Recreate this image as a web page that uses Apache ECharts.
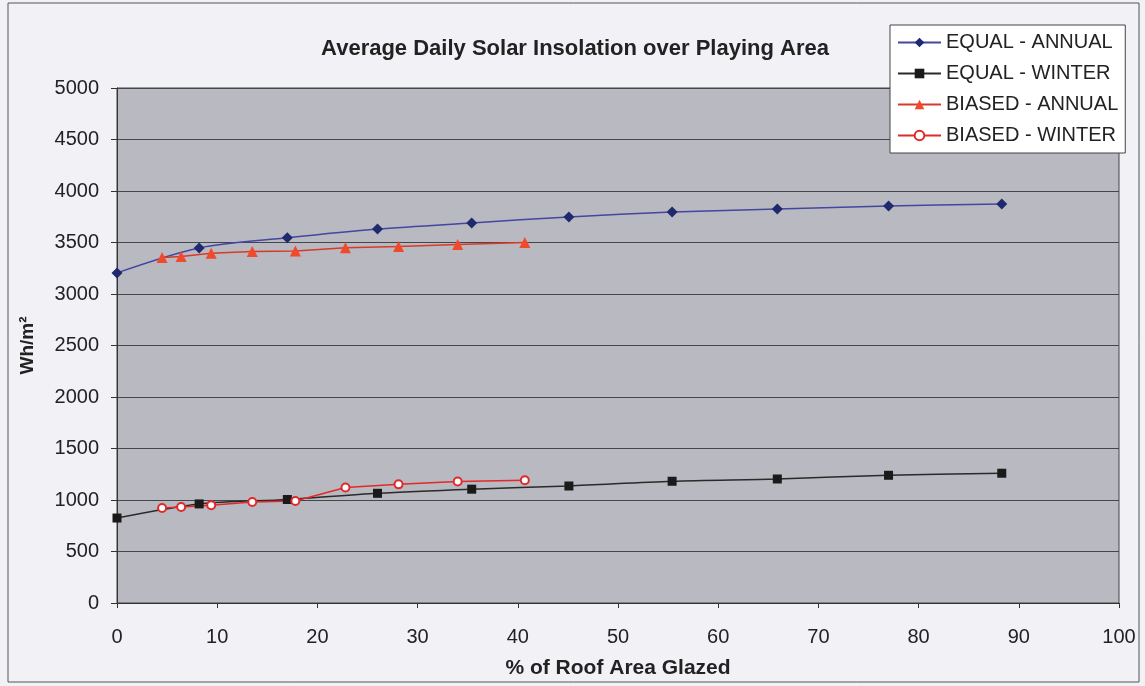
<!DOCTYPE html>
<html>
<head>
<meta charset="utf-8">
<script src="https://cdn.jsdelivr.net/npm/echarts@6/dist/echarts.min.js"></script>
<style>
html,body{margin:0;padding:0;background:#f2f2f6;}
#c{width:1145px;height:686px;}
</style>
</head>
<body>
<div id="c"></div>
<script>
const titleText = 'Average Daily Solar Insolation over Playing Area';
const xName = '% of Roof Area Glazed';
const yName = 'Wh/m²';
const seriesNames = ['EQUAL - ANNUAL', 'EQUAL - WINTER', 'BIASED - ANNUAL', 'BIASED - WINTER'];

const equalX = [0, 8.2, 17.0, 26.0, 35.4, 45.1, 55.4, 65.9, 77.0, 88.3];
const equalAnnual = [3205, 3447, 3545, 3630, 3690, 3748, 3796, 3825, 3854, 3874];
const equalWinter = [825, 962, 1005, 1065, 1105, 1136, 1182, 1204, 1240, 1260];

const biasedX = [4.5, 6.4, 9.4, 13.5, 17.8, 22.8, 28.1, 34.0, 40.7];
const biasedAnnual = [3355, 3365, 3395, 3412, 3418, 3450, 3462, 3480, 3500];
const biasedWinter = [922, 932, 950, 980, 990, 1122, 1152, 1180, 1192];

const yMin = 0, yMax = 5000, yStep = 500;
const xMin = 0, xMax = 100, xStep = 10;

function pairs(xs, ys){ return xs.map((x,i)=>[x, ys[i]]); }

const chart = echarts.init(document.getElementById('c'), null, {renderer:'canvas'});
const font = 'Liberation Sans, Arial, sans-serif';
chart.setOption({
  backgroundColor: '#f2f2f6',
  animation: false,
  textStyle: {fontFamily: font},
  graphic: [{
    type: 'rect', shape: {x: 8, y: 3, width: 1131, height: 679},
    style: {fill: 'none', stroke: '#555', lineWidth: 1}, z: -1
  }],
  title: {
    text: titleText, left: 570, top: 33, textAlign: 'center',
    textStyle: {fontFamily: font, fontSize: 22, fontWeight: 'bold', color: '#222'}
  },
  legend: {
    orient: 'vertical', left: 890, top: 25,
    padding: [7, 7, 7, 7],
    backgroundColor: '#ffffff', borderColor: '#444', borderWidth: 1,
    itemWidth: 43, itemHeight: 12, itemGap: 10,
    textStyle: {fontFamily: font, fontSize: 20, lineHeight: 21, color: '#222'},
    data: seriesNames
  },
  grid: {
    left: 117, right: 26, top: 88, bottom: 83,
    show: true, backgroundColor: '#b9b9c1', borderColor: '#444', borderWidth: 1
  },
  xAxis: {
    type: 'value', min: xMin, max: xMax, interval: xStep,
    name: xName, nameLocation: 'middle', nameGap: 55,
    nameTextStyle: {fontFamily: font, fontSize: 21, fontWeight: 'bold', color: '#222'},
    axisLine: {lineStyle: {color: '#333'}},
    axisTick: {show: true, inside: false, length: 5, lineStyle: {color: '#333'}},
    axisLabel: {fontFamily: font, fontSize: 20, color: '#222', margin: 24},
    splitLine: {show: false}
  },
  yAxis: {
    type: 'value', min: yMin, max: yMax, interval: yStep,
    name: yName, nameLocation: 'middle', nameGap: 80, nameRotate: 90,
    nameTextStyle: {fontFamily: font, fontSize: 19, fontWeight: 'bold', color: '#222'},
    axisLine: {show: true, lineStyle: {color: '#333'}},
    axisTick: {show: true, length: 6, lineStyle: {color: '#333'}},
    axisLabel: {fontFamily: font, fontSize: 20, color: '#222', margin: 18,
      formatter: v => String(v)},
    splitLine: {show: true, lineStyle: {color: '#45454b', width: 1}}
  },
  series: [
    {
      name: seriesNames[0], type: 'line', data: pairs(equalX, equalAnnual),
      smooth: 0.3, symbol: 'diamond', symbolSize: 11,
      lineStyle: {color: '#4545a2', width: 1.5},
      itemStyle: {color: '#1f2a6e', borderWidth: 0}
    },
    {
      name: seriesNames[1], type: 'line', data: pairs(equalX, equalWinter),
      smooth: 0.3, symbol: 'rect', symbolSize: 9,
      lineStyle: {color: '#2a2a2a', width: 1.5},
      itemStyle: {color: '#1a1a1a', borderWidth: 0}
    },
    {
      name: seriesNames[2], type: 'line', data: pairs(biasedX, biasedAnnual),
      symbol: 'triangle', symbolSize: 11,
      lineStyle: {color: '#d83a2a', width: 1.5},
      itemStyle: {color: '#f04a2a', borderWidth: 0}
    },
    {
      name: seriesNames[3], type: 'line', data: pairs(biasedX, biasedWinter),
      symbol: 'emptyCircle', symbolSize: 8,
      lineStyle: {color: '#e02a2a', width: 1.5},
      itemStyle: {color: '#e02a2a', borderColor: '#e02a2a', borderWidth: 1.5}
    }
  ]
});
</script>
</body>
</html>
